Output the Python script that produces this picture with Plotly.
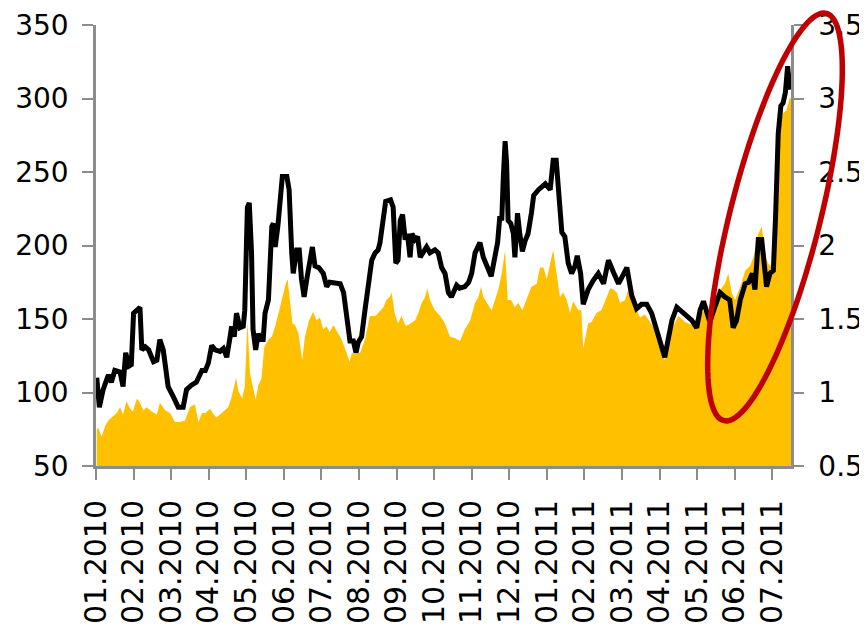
import numpy as np
import plotly.graph_objects as go

#x positions are in months since 01.2010 (0 = start of Jan 2010)
month_labels = ['01.2010', '02.2010', '03.2010', '04.2010', '05.2010', '06.2010',
	'07.2010', '08.2010', '09.2010', '10.2010', '11.2010', '12.2010',
	'01.2011', '02.2011', '03.2011', '04.2011', '05.2011', '06.2011', '07.2011']

#Black line, left axis
line_t = [0.02, 0.09, 0.19, 0.33, 0.41, 0.50, 0.64, 0.72, 0.79, 0.88, 0.94, 1.00, 1.09, 1.17,
	1.22, 1.31, 1.40, 1.53, 1.62, 1.70, 1.79, 1.92, 2.06, 2.19, 2.32, 2.41, 2.54, 2.67, 2.82,
	2.91, 2.99, 3.08, 3.17, 3.30, 3.39, 3.48, 3.57, 3.61, 3.68, 3.74, 3.83, 3.92, 3.96, 4.03,
	4.08, 4.14, 4.18, 4.25, 4.32, 4.39, 4.45, 4.50, 4.59, 4.68, 4.72, 4.77, 4.84, 4.90, 4.96,
	5.08, 5.14, 5.21, 5.25, 5.34, 5.41, 5.47, 5.54, 5.61, 5.67, 5.76, 5.83, 5.93,
	6.05, 6.14, 6.22, 6.37, 6.50, 6.59, 6.68, 6.76, 6.85, 6.92, 6.98, 7.07, 7.16, 7.25, 7.34,
	7.43, 7.51, 7.56, 7.65, 7.71, 7.84, 7.91, 7.98, 8.04, 8.10, 8.16, 8.23, 8.29, 8.36, 8.41,
	8.49, 8.56, 8.63, 8.71, 8.80, 8.89,
	9.02, 9.11, 9.20, 9.29, 9.38, 9.46, 9.60, 9.68, 9.82, 9.92, 10.00, 10.09, 10.22, 10.31,
	10.40, 10.52, 10.60, 10.69, 10.75, 10.80, 10.84, 10.89, 10.93, 10.97, 11.04, 11.11, 11.15,
	11.22, 11.28, 11.35, 11.42, 11.50, 11.59, 11.65, 11.78, 11.87, 11.96,
	12.09, 12.17, 12.25, 12.31, 12.40, 12.48, 12.57, 12.66, 12.75, 12.81, 12.90, 12.97, 13.10,
	13.23, 13.37, 13.51, 13.64, 13.77, 13.91, 13.99, 14.13, 14.26, 14.39, 14.52, 14.66, 14.79,
	14.92, 15.05,
	15.14, 15.23, 15.33, 15.46, 15.59, 15.72, 15.86, 15.99, 16.08, 16.17, 16.25, 16.34, 16.47,
	16.61, 16.74, 16.87, 16.96, 17.05, 17.15, 17.28, 17.37, 17.47, 17.54, 17.63, 17.72, 17.79,
	17.85, 17.94, 18.03, 18.09, 18.16, 18.23, 18.29, 18.35, 18.41, 18.47]
line_v = [110, 90, 102, 112, 107, 115, 114, 104, 127, 118, 119, 154, 156, 158,
	129, 131, 129, 121, 122, 136, 129, 104, 97, 90, 90, 102, 105, 107, 115,
	115, 120, 132, 129, 128, 130, 124, 138, 145, 138, 154, 144, 145, 156, 226,
	229, 195, 143, 129, 140, 136, 136, 154, 163, 213, 215, 199, 213, 236, 247,
	247, 238, 195, 181, 197, 197, 177, 165, 177, 186, 199, 186, 185,
	181, 172, 175, 174, 174, 168, 149, 135, 135, 127, 134, 138, 156, 174, 190,
	195, 197, 202, 222, 230, 231, 226, 188, 190, 217, 221, 204, 208, 192, 208,
	204, 206, 192, 195, 199, 195,
	197, 195, 185, 181, 168, 165, 173, 171, 172, 175, 181, 195, 202, 192,
	186, 179, 190, 202, 220, 217, 245, 271, 256, 217, 215, 208, 192,
	222, 208, 196, 203, 208, 222, 234, 238, 240, 242,
	238, 258, 258, 233, 209, 206, 188, 181, 186, 193, 181, 160, 170,
	176, 181, 174, 190, 182, 174, 178, 185, 166, 157, 160, 160, 154,
	143, 131,
	124, 136, 149, 158, 155, 152, 149, 144, 156, 162, 155, 148, 158,
	168, 165, 163, 144, 149, 163, 174, 175, 181, 170, 204, 204, 190,
	172, 181, 183, 220, 276, 295, 297, 304, 322, 306]

#Gold area, right axis
area_t = [0.02, 0.06, 0.15, 0.24, 0.33, 0.41, 0.55, 0.64, 0.72, 0.81, 0.91, 0.98, 1.09, 1.17,
	1.26, 1.35, 1.48, 1.62, 1.70, 1.84, 1.97, 2.10, 2.23, 2.37, 2.50, 2.63, 2.73, 2.82,
	2.91, 3.04, 3.13, 3.21, 3.39, 3.52, 3.61, 3.73, 3.79, 3.89, 3.96, 4.03, 4.10, 4.18, 4.25,
	4.32, 4.40, 4.48, 4.59, 4.68, 4.77, 4.86, 4.96, 5.05, 5.10, 5.17, 5.23, 5.30, 5.39, 5.49,
	5.56, 5.67, 5.78, 5.87, 5.96,
	6.05, 6.14, 6.22, 6.32, 6.45, 6.54, 6.67, 6.75, 6.81, 6.90, 7.03, 7.16, 7.29, 7.43, 7.51,
	7.65, 7.73, 7.82, 7.87, 7.95, 8.04, 8.13, 8.25, 8.36, 8.49, 8.58, 8.67, 8.76, 8.82, 8.89,
	8.98,
	9.02, 9.16, 9.29, 9.42, 9.55, 9.69, 9.82, 9.96, 10.09, 10.18, 10.25, 10.31, 10.40, 10.53,
	10.62, 10.71, 10.80, 10.89, 10.96, 11.05, 11.15, 11.24, 11.35, 11.46, 11.59, 11.73, 11.82,
	11.91, 12.00,
	12.09, 12.17, 12.26, 12.35, 12.44, 12.53, 12.62, 12.70, 12.84, 12.92, 12.97, 13.01, 13.10,
	13.19, 13.32, 13.45, 13.60, 13.69, 13.77, 13.86, 13.95, 14.08, 14.17, 14.26, 14.39, 14.48,
	14.61, 14.74, 14.88, 15.01,
	15.14, 15.33, 15.50, 15.68, 15.86, 16.03, 16.21, 16.39, 16.56, 16.74, 16.83, 16.92, 17.01,
	17.15, 17.28, 17.41, 17.50, 17.63, 17.72, 17.79, 17.85, 17.94, 18.03, 18.12, 18.20, 18.29,
	18.38, 18.47, 18.51]
area_v = [0.75, 0.76, 0.70, 0.77, 0.81, 0.83, 0.86, 0.90, 0.85, 0.94, 0.89, 0.87, 0.96, 0.93,
	0.88, 0.90, 0.87, 0.85, 0.93, 0.88, 0.86, 0.80, 0.80, 0.81, 0.90, 0.92, 0.80, 0.86,
	0.86, 0.89, 0.85, 0.83, 0.87, 0.90, 0.97, 1.10, 1.01, 0.96, 1.04, 1.48, 1.13, 1.02, 0.95,
	1.05, 1.09, 1.31, 1.36, 1.38, 1.45, 1.54, 1.65, 1.74, 1.77, 1.58, 1.47, 1.46, 1.40, 1.22,
	1.38, 1.49, 1.55, 1.49, 1.51,
	1.43, 1.45, 1.41, 1.46, 1.40, 1.36, 1.27, 1.21, 1.27, 1.26, 1.27, 1.36, 1.52, 1.52, 1.54,
	1.58, 1.63, 1.65, 1.68, 1.54, 1.47, 1.52, 1.45, 1.47, 1.49, 1.54, 1.61, 1.65, 1.71, 1.63,
	1.58,
	1.56, 1.52, 1.47, 1.38, 1.37, 1.35, 1.43, 1.49, 1.61, 1.65, 1.72, 1.65, 1.61, 1.56,
	1.63, 1.70, 1.81, 1.97, 1.63, 1.63, 1.58, 1.61, 1.56, 1.63, 1.72, 1.74, 1.85,
	1.85, 1.77,
	1.88, 1.97, 1.81, 1.65, 1.68, 1.63, 1.54, 1.62, 1.56, 1.56, 1.30, 1.36, 1.47,
	1.48, 1.54, 1.56, 1.65, 1.71, 1.70, 1.68, 1.61, 1.63, 1.70, 1.63, 1.56, 1.51,
	1.53, 1.48, 1.43, 1.36,
	1.22, 1.43, 1.52, 1.48, 1.46, 1.52, 1.56, 1.52, 1.68, 1.74, 1.81, 1.68, 1.63,
	1.72, 1.83, 1.86, 1.92, 2.08, 2.13, 1.99, 1.90, 1.86, 1.88, 2.22, 2.81, 2.90,
	2.92, 3.01, 2.99]

W, H = 867, 638
#the page body has an 8px margin, so the figure sits at (8, 8) in the window
L, R, T, B = 88, 84, 17, 180
axis_grey = '#8c8c8c'

fig = go.Figure()

#Gold area goes on the primary (right side) axis so the black line sits on top
fig.add_trace(go.Scatter(x=area_t, y=area_v, mode='lines', fill='tozeroy',
	fillcolor='#FFC000', line=dict(width=0, color='#FFC000'), yaxis='y'))
fig.add_trace(go.Scatter(x=line_t, y=line_v, mode='lines',
	line=dict(color='black', width=5), yaxis='y2'))

#Red ellipse drawn in window pixels, converted to paper coords
cx, cy, a, b = 775, 217, 210, 45
u = np.array([104, -413]) / np.hypot(104, 413)
n = np.array([-u[1], u[0]])
th = np.linspace(0, 2*np.pi, 120)
px = cx + a*np.cos(th)*u[0] + b*np.sin(th)*n[0]
py = cy + a*np.cos(th)*u[1] + b*np.sin(th)*n[1]
pw, ph = W - L - R, H - T - B
xs = (px - 8 - L) / pw
ys = (H - B + 8 - py) / ph
path = 'M ' + ' L '.join(f'{x:.4f},{y:.4f}' for x, y in zip(xs, ys)) + ' Z'
fig.add_shape(type='path', path=path, xref='paper', yref='paper',
	line=dict(color='#C00000', width=5.5))

tick_font = dict(family='DejaVu Sans', size=28, color='black')

fig.update_layout(
	width=W, height=H, margin=dict(l=L, r=R, t=T, b=B, pad=0),
	plot_bgcolor='white', paper_bgcolor='white', showlegend=False,
	xaxis=dict(range=[0, 18.50], tickmode='array', tickvals=list(range(len(month_labels))),
		ticktext=month_labels, tickangle=-90, ticks='outside', ticklen=11, tickwidth=2,
		tickcolor=axis_grey, showline=True, linecolor=axis_grey, linewidth=3,
		showgrid=False, zeroline=False, ticklabelstandoff=8, automargin=False,
		tickfont=dict(family='DejaVu Sans', size=30, color='black')),
	yaxis=dict(range=[0.5, 3.5], dtick=0.5, side='right', ticks='outside', ticklen=10,
		tickwidth=2, tickcolor=axis_grey, showline=True, linecolor=axis_grey, linewidth=2.5,
		showgrid=False, zeroline=False, tickfont=tick_font, ticklabelstandoff=9,
		automargin=False),
	yaxis2=dict(range=[50, 350], dtick=50, side='left', overlaying='y', ticks='outside',
		ticklen=11, tickwidth=2, tickcolor=axis_grey, showline=True, linecolor=axis_grey,
		linewidth=2.5, showgrid=False, zeroline=False, tickfont=tick_font,
		ticklabelstandoff=8, automargin=False),
)

fig.write_html('out.html')
